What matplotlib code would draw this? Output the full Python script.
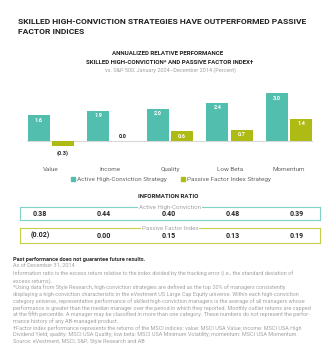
import matplotlib
matplotlib.use("Agg")
import matplotlib.pyplot as plt
from matplotlib.lines import Line2D

categories = ["Value", "Income", "Quality", "Low Beta", "Momentum"]
active = [1.6, 1.9, 2.0, 2.4, 3.0]
passive = [-0.3, 0.0, 0.6, 0.7, 1.4]
ir_active = ["0.38", "0.44", "0.40", "0.48", "0.39"]
ir_passive = ["(0.02)", "0.00", "0.15", "0.13", "0.19"]
series_names = ["Active High-Conviction Strategy", "Passive Factor Index Strategy"]

TEAL = "#52BFAE"
OLIVE = "#ADBB14"
OLIVE_LINE = "#C5CE4A"
TEAL_LINE = "#7FD3C6"
GRAY = "#A3A3A3"
DARK = "#222222"

plt.rcParams['font.family'] = ['Roboto', 'DejaVu Sans']

W, H = 336, 363
fig = plt.figure(figsize=(W / 100, H / 100), dpi=100)
fig.patch.set_facecolor("white")

def fx(px):
    return px / W

def fy(py):
    return 1 - py / H

def rect(l, t, r, b):
    return [fx(l), fy(b), (r - l) / W, (b - t) / H]

# Titles
fig.text(fx(18), fy(21.5), "SKILLED HIGH-CONVICTION STRATEGIES HAVE OUTPERFORMED PASSIVE",
         fontsize=6.1, fontweight="bold", color=DARK, va="center", ha="left")
fig.text(fx(18), fy(31.5), "FACTOR INDICES",
         fontsize=6.1, fontweight="bold", color=DARK, va="center", ha="left")
fig.text(fx(168), fy(53.5), "ANNUALIZED RELATIVE PERFORMANCE",
         fontsize=4.4, fontweight="bold", color=DARK, va="center", ha="center")
fig.text(fx(170), fy(62), "SKILLED HIGH-CONVICTION* AND PASSIVE FACTOR INDEX\u2020",
         fontsize=4.4, fontweight="bold", color=DARK, va="center", ha="center")
fig.text(fx(170), fy(70), "vs. S&P 500, January 2004\u2013December 2014 (Percent)",
         fontsize=4.0, color=GRAY, va="center", ha="center")

# Bar chart axes
ax = fig.add_axes(rect(21, 86.6, 319, 150.6))
ax.set_xlim(-0.5, 4.5)
ax.set_ylim(-0.6, 3.4)
xs = list(range(len(categories)))
bw = 0.37
off = 0.205
ax.bar([x - off for x in xs], active, width=bw, color=TEAL, zorder=2)
ax.bar([x + off for x in xs], passive, width=bw, color=OLIVE, zorder=2)
ax.axhline(0, xmin=0.02, xmax=0.975, color="#D8D8D8", lw=0.8, zorder=1)
for s in ax.spines.values():
    s.set_visible(False)
ax.set_yticks([])
ax.set_xticks(xs)
ax.set_xticklabels(categories, fontsize=4.6, color="#666666")
ax.tick_params(axis="x", length=0, pad=12)

for x, v in zip(xs, active):
    ax.annotate(f"{v:.1f}", (x - off, v), xytext=(0, -5), textcoords="offset pixels",
                ha="center", va="center", fontsize=4.0, fontweight="bold", color="white")
for x, v in zip(xs, passive):
    if v > 0.3:
        ax.annotate(f"{v:.1f}", (x + off, v), xytext=(0, -5), textcoords="offset pixels",
                    ha="center", va="center", fontsize=4.0, fontweight="bold", color="white")
    elif v < 0:
        ax.annotate(f"({abs(v):.1f})", (x + off, v), xytext=(0, -7), textcoords="offset pixels",
                    ha="center", va="center", fontsize=4.0, fontweight="bold", color=DARK)
    else:
        ax.annotate(f"{v:.1f}", (x + off, v), xytext=(0, 4), textcoords="offset pixels",
                    ha="center", va="center", fontsize=4.0, fontweight="bold", color=DARK)

handles = [Line2D([], [], marker="s", ls="", color=TEAL, markersize=2.5),
           Line2D([], [], marker="s", ls="", color=OLIVE, markersize=2.5)]
leg = ax.legend(handles, series_names, loc="center", bbox_to_anchor=(fx(171), fy(179)),
                bbox_transform=fig.transFigure, ncol=2, frameon=False, fontsize=4.6,
                handlelength=0.6, handletextpad=0.3, columnspacing=2.2, borderpad=0)
for t in leg.get_texts():
    t.set_color("#666666")

# Information ratio
fig.text(fx(168), fy(196.5), "INFORMATION RATIO", fontsize=4.4, fontweight="bold",
         color=DARK, va="center", ha="center")

def ir_box(top, bottom, vals, color, label):
    bx = fig.add_axes(rect(20, top, 320, bottom))
    bx.set_xlim(-0.31, 4.36)
    bx.set_ylim(0, 1)
    bx.set_xticks([])
    bx.set_yticks([])
    for s in bx.spines.values():
        s.set_color(color)
        s.set_linewidth(0.8)
    for i, v in enumerate(vals):
        bx.text(i, 0.5, v, ha="center", va="center", fontsize=5.0,
                fontweight="bold", color=DARK)
    bx.text(0.5, 1.0, label, transform=bx.transAxes, ha="center", va="center",
            fontsize=4.4, color=GRAY,
            bbox=dict(boxstyle="square,pad=0.15", fc="white", ec="none"))

ir_box(207.3, 220.3, ir_active, TEAL_LINE, "Active High-Conviction")
ir_box(228.3, 242.7, ir_passive, OLIVE_LINE, "Passive Factor Index")

# Footnotes
fig.text(fx(13), fy(259), "Past performance does not guarantee future results.",
         fontsize=4.1, fontweight="bold", color="#333333", va="center", ha="left")
fig.text(fx(13), fy(266.5), "As of December 31, 2014",
         fontsize=4.0, color=GRAY, va="center", ha="left")
notes = [
    "Information ratio is the excess return relative to the index divided by the tracking error (i.e., the standard deviation of",
    "excess returns).",
    "*Using data from Style Research, high-conviction strategies are defined as the top 20% of managers consistently",
    "displaying a high-conviction characteristic in the eVestment US Large Cap Equity universe. Within each high-conviction",
    "category universe, representative performance of skilled high-conviction managers is the average of all managers whose",
    "performance is greater than the median manager over the period in which they reported. Monthly outlier returns are capped",
    "at the fifth percentile. A manager may be classified in more than one category. These numbers do not represent the perfor-",
    "mance history of any AB-managed product.",
    "\u2020Factor index performance represents the returns of the MSCI indices: value: MSCI USA Value; income: MSCI USA High",
    "Dividend Yield; quality: MSCI USA Quality; low beta: MSCI USA Minimum Volatility; momentum: MSCI USA Momentum.",
    "Source: eVestment, MSCI, S&P, Style Research and AB",
]
for i, line in enumerate(notes):
    fig.text(fx(13), fy(274 + i * 6.75), line, fontsize=4.0, color=GRAY, va="center", ha="left")

fig.savefig("out.png", dpi=100, facecolor="white")
